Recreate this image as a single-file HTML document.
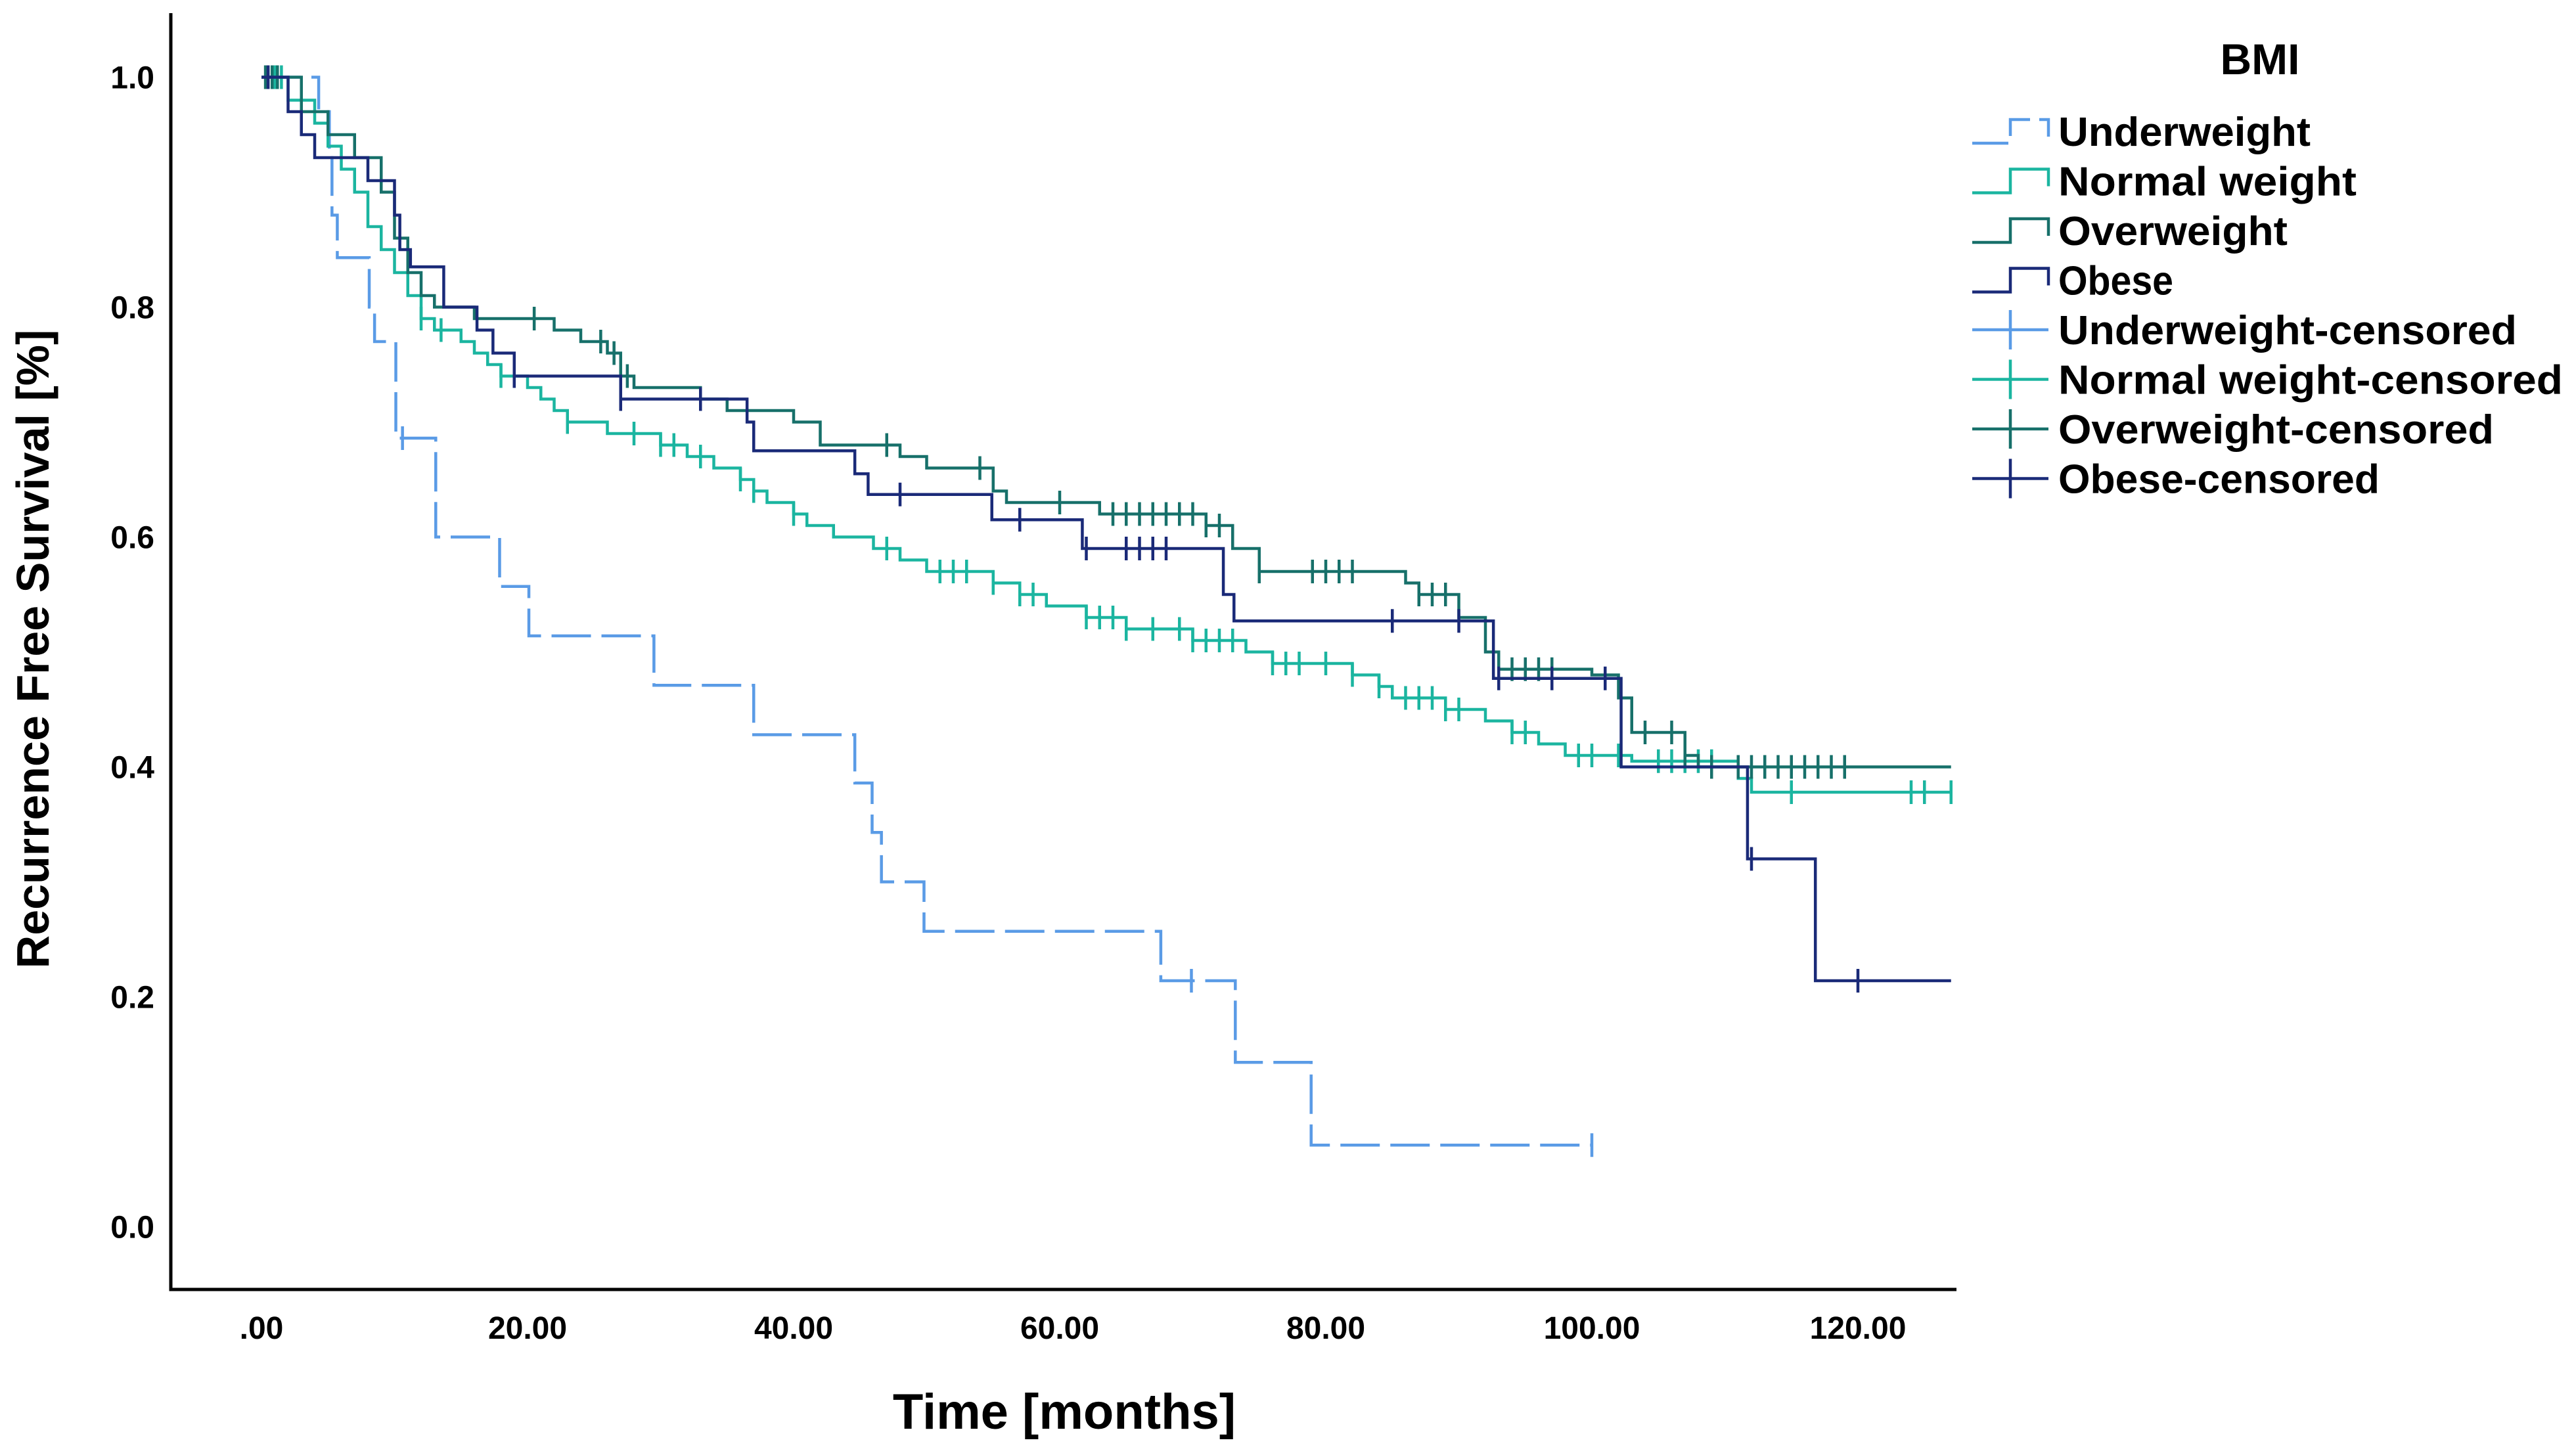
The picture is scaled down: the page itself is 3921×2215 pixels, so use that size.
<!DOCTYPE html>
<html><head><meta charset="utf-8"><style>
html,body{margin:0;padding:0;background:#fff;}
svg{display:block;font-family:"Liberation Sans",Arial,sans-serif;font-weight:bold;}
</style></head><body>
<svg id="chart" width="3921" height="2215" viewBox="0 0 3921 2215" xmlns="http://www.w3.org/2000/svg">
<rect x="0" y="0" width="3921" height="2215" fill="#fff"/>
<g id="axes"></g>
<g id="series"></g>
<g id="legend"></g>
</svg>
<script>
const xTicks = [0,20,40,60,80,100,120];
const xTickLabels = [".00","20.00","40.00","60.00","80.00","100.00","120.00"];
const yTicks = [0,0.2,0.4,0.6,0.8,1.0];
const yTickLabels = ["0.0","0.2","0.4","0.6","0.8","1.0"];
const seriesNames = ["Underweight","Normal weight","Overweight","Obese"];
const underT = [0,4.3,5.1,5.3,5.7,8.1,8.5,9.1,10.1,13.1,17.9,20.1,29.5,37.0,44.6,45.9,46.6,49.8,67.6,73.2,78.9];
const underS = [1.0,0.97,0.93,0.88,0.843,0.80,0.77,0.77,0.686,0.60,0.557,0.514,0.471,0.428,0.386,0.343,0.30,0.257,0.214,0.143,0.071];
const underEnd = 100;
const underCens = [0.4,10.6,69.9,100];
const normalT = [0,2,4,5,6,7,8,9,10,11,12,13,15,16,17,18,20,21,22,23,26,30,32,34,36,37,38,40,41,43,46,48,50,55,57,59,62,65,70,74,76,82,84,85,89,92,94,96,98,103,111,112];
const normalS = [1.0,0.98,0.96,0.94,0.92,0.90,0.87,0.85,0.83,0.81,0.79,0.78,0.77,0.76,0.75,0.74,0.73,0.72,0.71,0.70,0.69,0.68,0.67,0.66,0.65,0.64,0.63,0.62,0.61,0.60,0.59,0.58,0.57,0.56,0.55,0.54,0.53,0.52,0.51,0.50,0.49,0.48,0.47,0.46,0.45,0.44,0.43,0.42,0.41,0.405,0.39,0.378];
const normalEnd = 127;
const normalCens = [0.5,1,1.5,12,13.5,18,23,28,30,31,33,36,37,40,47,51,52,53,55,57,58,62,63,64,65,67,69,70,71,72,73,76,77,78,80,82,84,86,87,88,89,90,94,95,99,100,102,105,106,107,108,109,115,124,125,127];
const overT = [0,3,5,7,9,10,11,12,13,16,22,24,26,27,28,33,35,40,42,48,50,55,56,63,71,73,75,86,87,90,92,93,100,102,103,107,108];
const overS = [1.0,0.97,0.95,0.93,0.90,0.86,0.83,0.81,0.80,0.79,0.78,0.77,0.76,0.74,0.73,0.72,0.71,0.70,0.68,0.67,0.66,0.64,0.63,0.62,0.61,0.59,0.57,0.56,0.55,0.53,0.50,0.485,0.48,0.46,0.43,0.41,0.40];
const overEnd = 127;
const overCens = [0.3,0.8,1.2,20.5,25.5,26.5,27.5,47,54,60,64,65,66,67,68,69,70,71,72,75,79,80,81,82,87,88,89,93,94,95,96,97,104,106,107,109,111,112,113,114,115,116,117,118,119];
const obeseT = [0,2,3,4,8,10.0,10.4,11.2,13.7,16.2,17.4,19.0,27.0,36.5,37.0,44.6,45.6,54.9,61.7,72.3,73.1,92.6,102.2,111.7,116.8];
const obeseS = [1.0,0.97,0.95,0.93,0.91,0.88,0.85,0.835,0.80,0.78,0.76,0.74,0.72,0.70,0.675,0.655,0.637,0.615,0.59,0.55,0.527,0.477,0.40,0.32,0.214];
const obeseEnd = 127;
const obeseCens = [0.5,19,27,33,48,57,62,65,66,67,68,85,90,93,97,101,112,120];

const NS="http://www.w3.org/2000/svg";
const X0=398, PXT=20.25, Y0=1867.5, PXS=1750;
const xs=t=>X0+t*PXT, ys=s=>Y0-s*PXS;
function mk(tag,attrs,parent){const e=document.createElementNS(NS,tag);for(const k in attrs)e.setAttribute(k,attrs[k]);parent.appendChild(e);return e;}
const axes=document.getElementById('axes');
let sp=mk('path',{d:'M260,20 V1963 H2978',fill:'none',stroke:'#000','stroke-width':5},axes);


xTicks.forEach((v,i)=>{const t=mk('text',{x:xs(v),y:2038,'font-size':48,'text-anchor':'middle'},axes);t.textContent=xTickLabels[i];

});
yTicks.forEach((v,i)=>{const t=mk('text',{x:235,y:ys(v)+17,'font-size':48,'text-anchor':'end'},axes);t.textContent=yTickLabels[i];

});
let xt=mk('text',{x:1620,y:2175,'font-size':76,'text-anchor':'middle'},axes);xt.textContent='Time [months]';


let yt=mk('text',{x:0,y:0,'font-size':70,'text-anchor':'middle',transform:'translate(74,988) rotate(-90)'},axes);yt.textContent='Recurrence Free Survival [%]';



const colors=['#5A9BE6','#1BB5A0','#17706A','#1A2A78'];
const sets=[[underT,underS,underEnd,underCens],[normalT,normalS,normalEnd,normalCens],[overT,overS,overEnd,overCens],[obeseT,obeseS,obeseEnd,obeseCens]];
const keys=['underweight','normal-weight','overweight','obese'];
const sg=document.getElementById('series');
function sAt(T,S,t){let s=S[0];for(let i=0;i<T.length;i++){if(T[i]<=t)s=S[i];}return s;}
sets.forEach((st,k)=>{const [T,S,end,C]=st;let d='M'+xs(T[0])+','+ys(S[0]);
for(let i=1;i<T.length;i++){d+=' H'+xs(T[i])+' V'+ys(S[i]);}d+=' H'+xs(end);
const p=mk('path',{d:d,fill:'none',stroke:colors[k],'stroke-width':4.5},sg);
if(k===0)p.setAttribute('stroke-dasharray','60 16');


C.forEach(t=>{const x=xs(t),y=ys(sAt(T,S,t));
const c=mk('path',{d:`M${x},${y-18} V${y+18}`,stroke:colors[k],'stroke-width':4.5},sg);

});
});

const lg=document.getElementById('legend');
let bt=mk('text',{x:3440,y:113,'font-size':66,'text-anchor':'middle'},lg);bt.textContent='BMI';


const legendLabels=["Underweight","Normal weight","Overweight","Obese","Underweight-censored","Normal weight-censored","Overweight-censored","Obese-censored"];
legendLabels.forEach((lab,i)=>{const cy=200+i*75.5;const c=colors[i%4];
const g=mk('g',{},lg);


if(i<4){const p=mk('path',{d:`M3002,${cy+18} H3060 V${cy-18} H3118 V${cy+8}`,fill:'none',stroke:c,'stroke-width':4.5},g);
if(i===0)p.setAttribute('stroke-dasharray','55 14');}
else{mk('path',{d:`M3002,${cy} H3118 M3060,${cy-30} V${cy+30}`,stroke:c,'stroke-width':4.5},g);}
const t=mk('text',{x:3133,y:cy+22,'font-size':62,textLength:(lab.length*34.9).toFixed(0),lengthAdjust:'spacingAndGlyphs'},g);t.textContent=lab;});
</script>
</body></html>
